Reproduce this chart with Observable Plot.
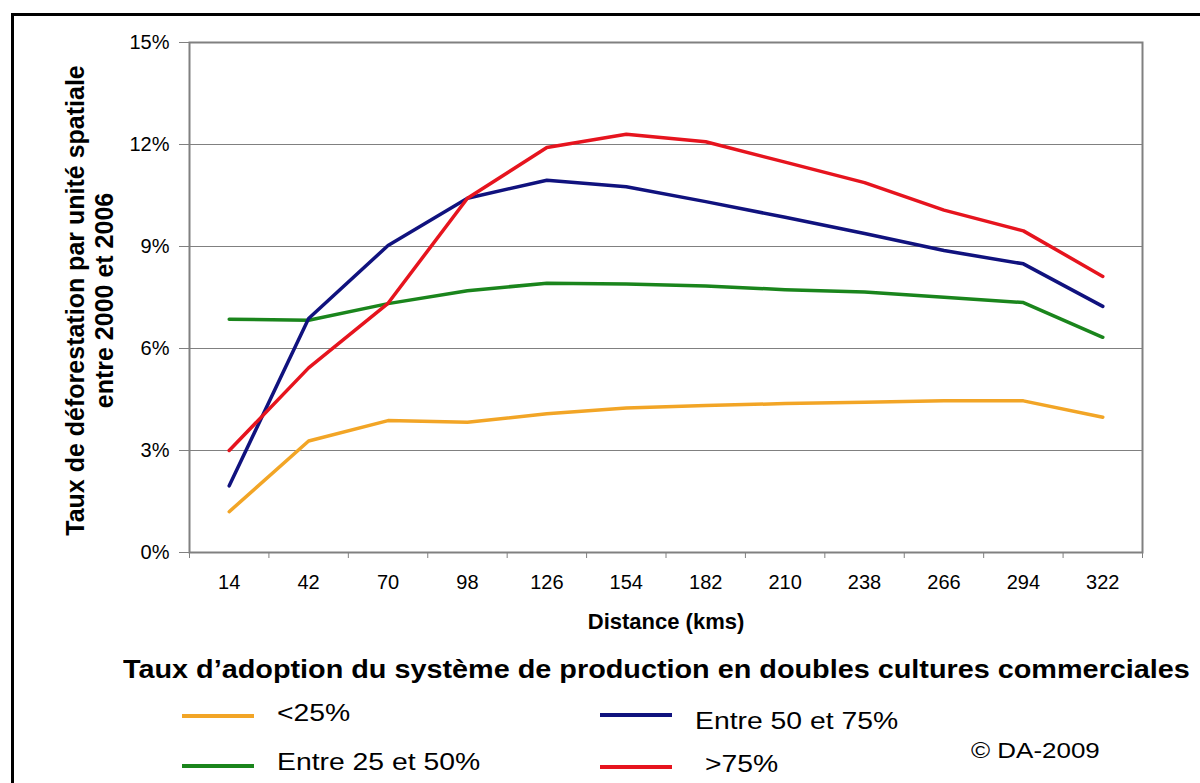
<!DOCTYPE html>
<html><head><meta charset="utf-8">
<script src="https://cdn.jsdelivr.net/npm/d3@7"></script>
<script src="https://cdn.jsdelivr.net/npm/@observablehq/plot@0.6"></script>
<style>
html,body{margin:0;padding:0;background:#fff;}
body{width:1200px;height:783px;overflow:hidden;position:relative;font-family:"Liberation Sans",Arial,sans-serif;}
#border{position:absolute;left:10.5px;top:13px;width:1300px;height:900px;border-left:3px solid #000;border-top:3px solid #000;}
#chart{position:absolute;left:0;top:0;}
.lg{position:absolute;line-height:1;white-space:nowrap;transform-origin:0 0;color:#000;}
.sw{position:absolute;height:4px;width:72px;}
</style></head><body>
<div id="border"></div>
<div id="chart"></div>
<div id="legend"></div>
<script>
// ---- data ----
const distances = [14, 42, 70, 98, 126, 154, 182, 210, 238, 266, 294, 322];
const seriesNames = ["<25%", "Entre 25 et 50%", "Entre 50 et 75%", ">75%"];
const seriesColors = ["#F2A526", "#1A851C", "#10127E", "#E6141E"];
const valsLt25  = [1.20, 3.28, 3.88, 3.83, 4.08, 4.25, 4.32, 4.38, 4.42, 4.46, 4.46, 3.98];
const vals25_50 = [6.86, 6.83, 7.32, 7.70, 7.92, 7.90, 7.84, 7.73, 7.66, 7.51, 7.35, 6.33];
const vals50_75 = [1.96, 6.88, 9.03, 10.42, 10.95, 10.76, 10.32, 9.86, 9.38, 8.88, 8.49, 7.24];
const valsGt75  = [3.00, 5.43, 7.33, 10.42, 11.91, 12.30, 12.08, 11.48, 10.88, 10.07, 9.46, 8.12];
const yTicks = [0, 3, 6, 9, 12, 15];
const yLabel = "Taux de déforestation par unité spatiale\nentre 2000 et 2006";
const xLabel = "Distance (kms)";
const legendTitle = "Taux d’adoption du système de production en doubles cultures commerciales";
const copyright = "© DA-2009";

// ---- build ----
const seriesValues = [valsLt25, vals25_50, vals50_75, valsGt75];
const data = [];
seriesNames.forEach((s, i) => distances.forEach((d, j) => data.push({series: s, distance: d, value: seriesValues[i][j]})));
const step = distances[1] - distances[0];
const xDomain = [distances[0] - step / 2, distances[distances.length - 1] + step / 2];
const boundaries = distances.map(d => d - step / 2).concat([xDomain[1]]);

const plot = Plot.plot({
  width: 1200, height: 640,
  marginLeft: 189, marginRight: 58, marginTop: 42, marginBottom: 88,
  style: {fontFamily: '"Liberation Sans", Arial, sans-serif', fontSize: "20px", background: "transparent", color: "#000"},
  x: {domain: xDomain},
  y: {domain: [0, 15]},
  color: {domain: seriesNames, range: seriesColors},
  marks: [
    Plot.ruleY(yTicks.filter(t => t > 0), {stroke: "#808080", strokeWidth: 1}),
    Plot.frame({stroke: "#808080", strokeWidth: 2}),
    Plot.axisY({ticks: yTicks, tickFormat: d => d + "%", tickSize: 10, tickPadding: 10, stroke: "#808080", label: null, fontSize: 20}),
    Plot.axisX({ticks: boundaries, tickSize: 6, tickFormat: () => "", stroke: "#808080", label: null}),
    Plot.axisX({ticks: distances, tickSize: 0, tickPadding: 22, label: null, fontSize: 20, tickFormat: d => String(d)}),
    Plot.line(data, {x: "distance", y: "value", z: "series", stroke: "series", strokeWidth: 3.5, strokeLinejoin: "round"}),
    Plot.text([yLabel], {text: d => d, frameAnchor: "left", textAnchor: "middle", rotate: -90, dx: -77, dy: 3, lineAnchor: "bottom", lineHeight: 1.16, fontSize: 25, fontWeight: "bold"}),
    Plot.text([xLabel], {text: d => d, frameAnchor: "bottom", textAnchor: "middle", dy: 76, lineAnchor: "bottom", fontSize: 22, fontWeight: "bold"})
  ]
});
document.getElementById("chart").appendChild(plot);

// ---- legend (HTML) ----
const legend = document.getElementById("legend");
function addText(txt, left, baseline, size, bold, sx) {
  const el = document.createElement("div");
  el.className = "lg";
  el.textContent = txt;
  el.style.left = left + "px";
  el.style.top = (baseline - 0.8465 * size) + "px";
  el.style.fontSize = size + "px";
  el.style.fontWeight = bold ? "bold" : "normal";
  el.style.transform = `scaleX(${sx})`;
  legend.appendChild(el);
}
addText(legendTitle, 123, 678, 25, true, 1.152);
const legendPlacement = [
  {lineX: 182, lineY: 716, textX: 277, base: 721},
  {lineX: 182, lineY: 766, textX: 277, base: 770},
  {lineX: 600, lineY: 715, textX: 695, base: 729},
  {lineX: 600, lineY: 767, textX: 705, base: 772}
];
seriesNames.forEach((s, i) => {
  const p = legendPlacement[i];
  const sw = document.createElement("div");
  sw.className = "sw";
  sw.style.left = p.lineX + "px";
  sw.style.top = (p.lineY - 2) + "px";
  sw.style.background = seriesColors[i];
  legend.appendChild(sw);
  addText(s, p.textX, p.base, 24, false, 1.18);
});
addText(copyright, 971, 759, 22, false, 1.18);
</script>
</body></html>
